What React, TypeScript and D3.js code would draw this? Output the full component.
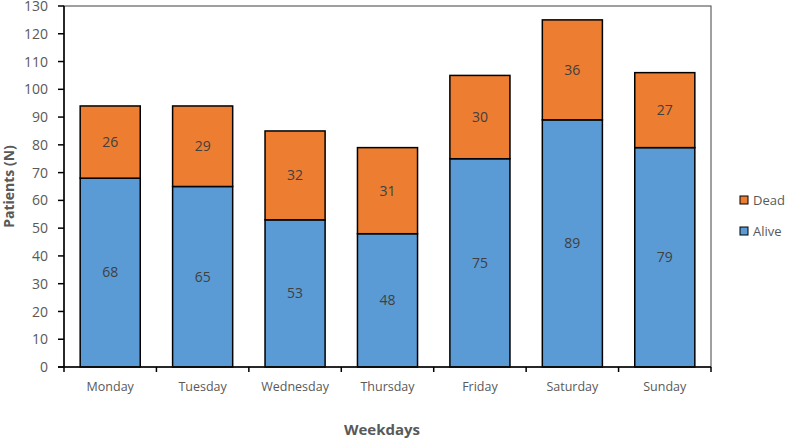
import React from "react";
import * as d3 from "d3";

const categories = ["Monday", "Tuesday", "Wednesday", "Thursday", "Friday", "Saturday", "Sunday"];
const alive = [68, 65, 53, 48, 75, 89, 79];
const dead = [26, 29, 32, 31, 30, 36, 27];
const yTicks = d3.range(0, 131, 10);

const W = 787, H = 439;
const m = { left: 64, right: 711, top: 6, bottom: 367 };
const font = "'Open Sans', 'Liberation Sans', sans-serif";

export default function App() {
  const x = d3.scaleBand<string>().domain(categories).range([m.left, m.right]).paddingInner(0.35).paddingOuter(0.175);
  const xb = d3.scaleBand<string>().domain(categories).range([m.left, m.right]);
  const y = d3.scaleLinear().domain([0, 130]).range([m.bottom, m.top]);
  return (
    <svg width={W} height={H} style={{ position: "absolute", left: 0, top: 0 }}>
      <rect x={0} y={0} width={W} height={H} fill="white" />
      {categories.map((c, i) => {
        const x0 = x(c)!;
        const bw = x.bandwidth();
        const a = alive[i], d = dead[i];
        return (
          <g key={c}>
            <rect x={x0} y={y(a)} width={bw} height={y(0) - y(a)} fill="#5b9bd5" stroke="#000" strokeWidth={1.5} />
            <rect x={x0} y={y(a + d)} width={bw} height={y(a) - y(a + d)} fill="#ed7d31" stroke="#000" strokeWidth={1.5} />
            <text x={x0 + bw / 2} y={(y(0) + y(a)) / 2} dy="0.35em" textAnchor="middle" fontFamily={font} fontSize={14} fill="#404040">{a}</text>
            <text x={x0 + bw / 2} y={(y(a) + y(a + d)) / 2} dy="0.35em" textAnchor="middle" fontFamily={font} fontSize={14} fill="#404040">{d}</text>
          </g>
        );
      })}
      <rect x={m.left} y={m.top} width={m.right - m.left} height={m.bottom - m.top} fill="none" stroke="#404040" strokeWidth={1} />
      <line x1={m.left} x2={m.left} y1={m.top} y2={m.bottom} stroke="#000" strokeWidth={1.5} />
      <line x1={m.left - 6} x2={m.right} y1={m.bottom} y2={m.bottom} stroke="#000" strokeWidth={1.5} />
      {yTicks.map((t) => (
        <g key={t}>
          <line x1={m.left - 6} x2={m.left} y1={y(t)} y2={y(t)} stroke="#000" strokeWidth={1.5} />
          <text x={m.left - 16} y={y(t)} dy="0.36em" textAnchor="end" fontFamily={font} fontSize={14} fill="#595959">{t}</text>
        </g>
      ))}
      {categories.map((c) => (
        <g key={c}>
          <line x1={xb(c)!} x2={xb(c)!} y1={m.bottom} y2={m.bottom + 5} stroke="#000" strokeWidth={1.5} />
          <text x={xb(c)! + xb.bandwidth() / 2} y={m.bottom + 20} dy="0.35em" textAnchor="middle" fontFamily={font} fontSize={12.5} fill="#595959">{c}</text>
        </g>
      ))}
      <line x1={m.right} x2={m.right} y1={m.bottom} y2={m.bottom + 5} stroke="#000" strokeWidth={1.5} />
      <text transform={`translate(9,${(m.top + m.bottom) / 2}) rotate(-90)`} textAnchor="middle" dy="0.35em" fontFamily={font} fontSize={14} fontWeight="bold" fill="#595959">Patients (N)</text>
      <text x={382} y={435} textAnchor="middle" fontFamily={font} fontSize={15} fontWeight="bold" fill="#595959">Weekdays</text>
      {[{ label: "Dead", color: "#ed7d31", yy: 200 }, { label: "Alive", color: "#5b9bd5", yy: 231 }].map((l) => (
        <g key={l.label}>
          <rect x={740} y={l.yy - 4} width={8} height={8} fill={l.color} stroke="#000" strokeWidth={1} />
          <text x={753} y={l.yy} dy="0.35em" fontFamily={font} fontSize={13} fill="#595959">{l.label}</text>
        </g>
      ))}
    </svg>
  );
}
